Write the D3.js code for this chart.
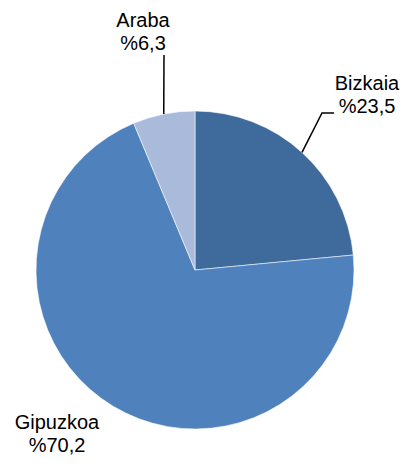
<!DOCTYPE html>
<html>
<head>
<meta charset="utf-8">
<script src="https://cdn.jsdelivr.net/npm/d3@7"></script>
<style>
  html, body { margin: 0; padding: 0; background: #ffffff; }
  svg { display: block; }
  text { font-family: "Liberation Sans", Arial, sans-serif; font-size: 20px; fill: #000; }
</style>
</head>
<body>
<svg id="chart" width="406" height="466"></svg>
<script>
// Provinces and their share (%)
const categories = ["Bizkaia", "Gipuzkoa", "Araba"];
const values = [23.5, 70.2, 6.3];
const valueLabels = ["%23,5", "%70,2", "%6,3"];

const colors = ["#3f6b9c", "#4f81bd", "#a9bada"];

const width = 406, height = 466;
const cx = 195, cy = 270, radius = 159;

// Label anchors (text centre x, first-line baseline y) and leader elbows
const labelLayout = {
  Bizkaia:  { x: 367, y: 90,  leader: [[322, 113], [334, 113]] },
  Gipuzkoa: { x: 57,  y: 429, leader: null },
  Araba:    { x: 143, y: 27,  leader: [[164, 55]] }
};

const svg = d3.select("#chart");
const g = svg.append("g").attr("transform", `translate(${cx},${cy})`);

const data = categories.map((c, i) => ({ name: c, value: values[i], label: valueLabels[i], color: colors[i] }));

const pie = d3.pie().sort(null).value(d => d.value).startAngle(0).endAngle(2 * Math.PI);
const arc = d3.arc().innerRadius(0).outerRadius(radius);
const arcs = pie(data);

g.selectAll("path.slice")
  .data(arcs)
  .enter().append("path")
  .attr("class", "slice")
  .attr("d", arc)
  .attr("fill", d => d.data.color)
  .attr("stroke", "#ffffff")
  .attr("stroke-opacity", 0.55)
  .attr("stroke-width", 1);

// Leader lines from the slice rim to the labels
arcs.forEach(a => {
  const lay = labelLayout[a.data.name];
  if (!lay.leader) return;
  const mid = (a.startAngle + a.endAngle) / 2;
  const start = [cx + radius * Math.sin(mid), cy - radius * Math.cos(mid)];
  const pts = [start].concat(lay.leader);
  svg.append("path")
    .attr("d", d3.line()(pts))
    .attr("fill", "none")
    .attr("stroke", "#000")
    .attr("stroke-width", 1.5);
});

// Two-line labels: name and value
arcs.forEach(a => {
  const lay = labelLayout[a.data.name];
  const t = svg.append("text").attr("text-anchor", "middle");
  t.append("tspan").attr("x", lay.x).attr("y", lay.y).text(a.data.name);
  t.append("tspan").attr("x", lay.x).attr("y", lay.y + 23).text(a.data.label);
});
</script>
</body>
</html>
